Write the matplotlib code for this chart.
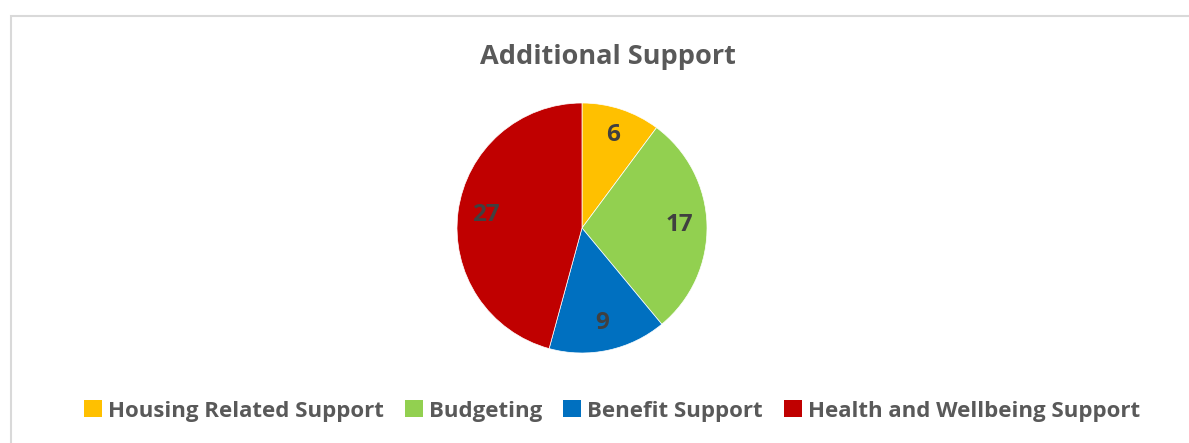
import matplotlib
matplotlib.use("Agg")
import matplotlib.pyplot as plt
from matplotlib.patches import Rectangle, Patch

categories = ["Housing Related Support", "Budgeting", "Benefit Support",
              "Health and Wellbeing Support"]
values = [6, 17, 9, 27]
colors = ["#FFC000", "#92D050", "#0070C0", "#C00000"]

W, H = 1189, 443
plt.rcParams["font.family"] = ["Open Sans", "DejaVu Sans"]

fig = plt.figure(figsize=(W / 100, H / 100), dpi=100)

# chart frame
fig.patches.append(Rectangle((10.5 / W, -0.1), 1.2, (H - 15.5) / H + 0.1,
                             transform=fig.transFigure, fill=False,
                             edgecolor="#D9D9D9", linewidth=1.5))

cx, cy, r = 582, 228, 125
ax = fig.add_axes([(cx - r) / W, (H - cy - r) / H, 2 * r / W, 2 * r / H])
wedges, texts = ax.pie(values, colors=colors, startangle=90, counterclock=False,
                       radius=1, labels=[str(v) for v in values], labeldistance=0.78,
                       wedgeprops=dict(linewidth=0.5, edgecolor="white"))
for t in texts:
    t.set_ha("center")
    t.set_va("center")
    t.set_fontsize(17.5)
    t.set_fontweight("bold")
    t.set_color("#404040")
ax.set_xlim(-1, 1)
ax.set_ylim(-1, 1)
ax.set_aspect("equal")

fig.text(608 / W, 1 - 57 / H, "Additional Support", ha="center", va="center",
         fontsize=19.5, fontweight="bold", color="#595959")

handles = [Patch(facecolor=c, edgecolor="none") for c in colors]
fig.legend(handles, categories, loc="center", bbox_to_anchor=(612 / W, 1 - 411 / H),
           ncol=4, frameon=False, handlelength=0.8, handleheight=0.8,
           handletextpad=0.27, columnspacing=0.95,
           prop=dict(size=16, weight="bold"), labelcolor="#595959")

fig.savefig("out.png", dpi=100)
